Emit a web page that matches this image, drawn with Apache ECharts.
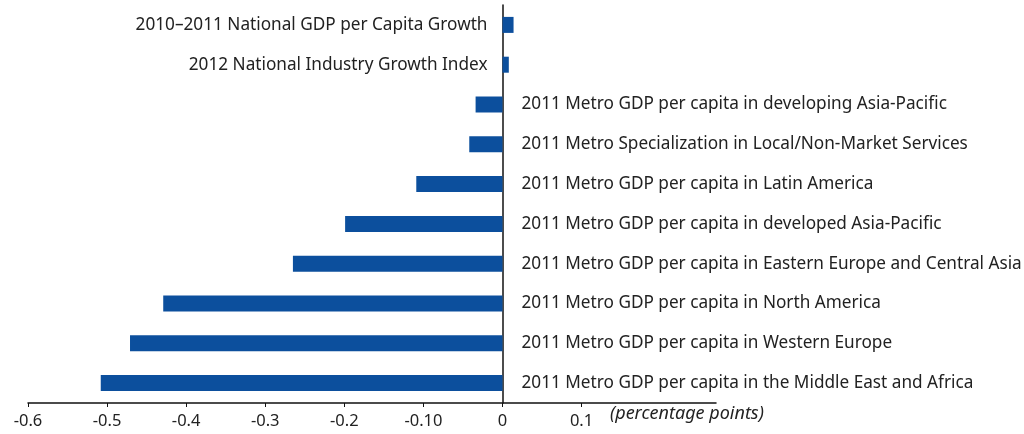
<!DOCTYPE html>
<html>
<head>
<meta charset="utf-8">
<script src="https://cdn.jsdelivr.net/npm/echarts@6/dist/echarts.min.js"></script>
<style>
  html, body { margin: 0; padding: 0; background: #fff; }
  #chart { width: 1024px; height: 434px; }
</style>
</head>
<body>
<div id="chart"></div>
<script>
// categories top to bottom
const categories = [
  '2010–2011 National GDP per Capita Growth',
  '2012 National Industry Growth Index',
  '2011 Metro GDP per capita in developing Asia-Pacific',
  '2011 Metro Specialization in Local/Non-Market Services',
  '2011 Metro GDP per capita in Latin America',
  '2011 Metro GDP per capita in developed Asia-Pacific',
  '2011 Metro GDP per capita in Eastern Europe and Central Asia',
  '2011 Metro GDP per capita in North America',
  '2011 Metro GDP per capita in Western Europe',
  '2011 Metro GDP per capita in the Middle East and Africa'
];
const values = [0.014, 0.008, -0.034, -0.042, -0.109, -0.199, -0.265, -0.429, -0.471, -0.508];
const tickValues = [-0.6, -0.5, -0.4, -0.3, -0.2, -0.1, 0, 0.1];
const tickLabels = ['-0.6', '-0.5', '-0.4', '-0.3', '-0.2', '-0.10', '0', '0.1'];

const FONT = 'Noto Sans';
const chart = echarts.init(document.getElementById('chart'));

const seriesData = values.map((v, i) => ({
  value: v,
  label: {
    show: true,
    position: v >= 0 ? 'left' : 'right',
    distance: v >= 0 ? 15 : 19,
    formatter: categories[i],
    color: '#222',
    fontFamily: FONT,
    fontSize: 17.2
  }
}));

chart.setOption({
  animation: false,
  grid: { left: 28, right: 308, top: 5, bottom: 31 },
  xAxis: {
    type: 'value',
    min: -0.6,
    max: 0.27,
    splitLine: { show: false },
    axisLine: { show: true, lineStyle: { color: '#111', width: 1.5 } },
    axisTick: { show: true, customValues: tickValues, length: 4, lineStyle: { color: '#111' } },
    axisLabel: {
      customValues: tickValues,
      color: '#222',
      fontFamily: FONT,
      fontSize: 16.5,
      margin: 10,
      formatter: function (v) {
        const idx = tickValues.findIndex(t => Math.abs(t - v) < 1e-9);
        return idx >= 0 ? tickLabels[idx] : '';
      }
    }
  },
  yAxis: {
    type: 'category',
    inverse: true,
    data: categories,
    axisLine: { show: true, onZero: true, lineStyle: { color: '#111', width: 1.5 } },
    axisTick: { show: false },
    axisLabel: { show: false }
  },
  series: [{
    type: 'bar',
    barWidth: 16,
    itemStyle: { color: '#0c4f9d' },
    data: seriesData
  }],
  graphic: [{
    type: 'text',
    left: 610,
    top: 405,
    style: {
      text: '(percentage points)',
      fontFamily: FONT,
      fontStyle: 'italic',
      fontSize: 18,
      fill: '#222'
    }
  }]
});
</script>
</body>
</html>
